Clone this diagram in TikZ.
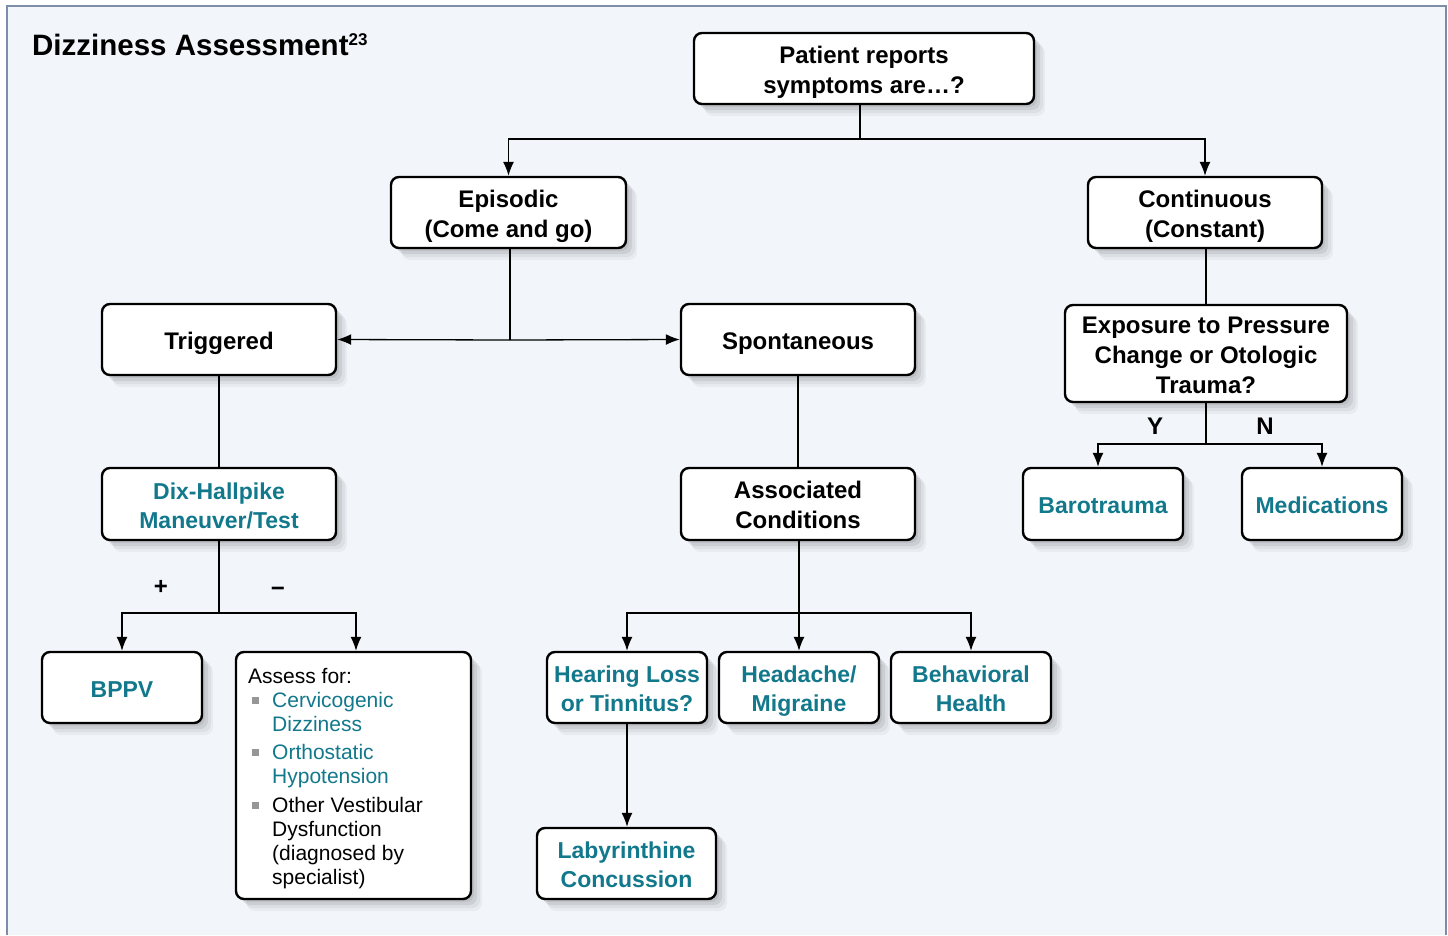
\documentclass[tikz,border=0pt]{standalone}
\usepackage{fontspec}
\setmainfont{Liberation Sans}
\usetikzlibrary{arrows.meta,shadows}
\definecolor{bgc}{RGB}{242,246,250}
\definecolor{framec}{RGB}{125,141,168}
\definecolor{tealc}{RGB}{18,120,140}
\definecolor{bulc}{RGB}{150,150,150}
\newcommand{\fl}{\rule{0pt}{25pt}}
\newcommand{\lastl}{\rule[-6pt]{0pt}{6pt}}
\tikzset{
  softshadow/.style={
    general shadow={fill=black, opacity=0.07, shadow xshift=3pt, shadow yshift=-3pt},
    general shadow={fill=black, opacity=0.07, shadow xshift=6pt, shadow yshift=-6pt},
    general shadow={fill=black, opacity=0.05, shadow xshift=9pt, shadow yshift=-9pt},
    general shadow={fill=black, opacity=0.04, shadow xshift=11pt, shadow yshift=-12pt}},
  box/.style={draw=black, line width=2.4pt, rounded corners=8pt, fill=white,
    align=center, inner sep=0pt, softshadow,
    font=\bfseries\fontsize{24}{30}\selectfont},
  tbox/.style={box, text=tealc, font=\bfseries\fontsize{23}{29}\selectfont},
  conn/.style={draw=black, line width=1.3pt},
  arr/.style={conn, -{Latex[length=14pt,width=11pt]}},
  lbl/.style={font=\bfseries\fontsize{24}{24}\selectfont, inner sep=0pt},
  ltxt/.style={anchor=base west, inner sep=0pt, font=\fontsize{21}{24}\selectfont},
  bul/.style={fill=bulc, minimum size=7pt, inner sep=0pt, draw=none},
}
\begin{document}
\begin{tikzpicture}[x=1pt,y=-1pt]
\useasboundingbox (0,0) rectangle (1448,935);
\fill[white] (0,0) rectangle (1448,935);
\fill[bgc] (7,6) rectangle (1446,935);
\draw[framec, line width=1.5pt] (7,935) -- (7,6) -- (1446,6) -- (1446,935);

\node[anchor=base west, inner sep=0pt, font=\bfseries\fontsize{29.5}{30}\selectfont] (title) at (32,55)
  {Dizziness Assessment\raisebox{10pt}{\fontsize{17}{17}\selectfont 23}};

\node[box, minimum width=340pt, minimum height=71pt] (pat) at (864,68.5) {\fl Patient reports\\symptoms are\ldots?\lastl};
\node[box, minimum width=235pt, minimum height=71pt] (epi) at (508.5,212.5) {\fl Episodic\\(Come and go)\lastl};
\node[box, minimum width=234pt, minimum height=71pt] (con) at (1205,212.5) {\fl Continuous\\(Constant)\lastl};
\node[box, minimum width=234pt, minimum height=71pt] (trig) at (219,339.5) {\fl Triggered\lastl};
\node[box, minimum width=234pt, minimum height=71pt] (spon) at (798,339.5) {\fl Spontaneous\lastl};
\node[box, minimum width=282pt, minimum height=97pt] (exp) at (1206,353.5) {\fl Exposure to Pressure\\Change or Otologic\\Trauma?\lastl};
\node[tbox, minimum width=234pt, minimum height=72pt] (dix) at (219,504) {\fl Dix-Hallpike\\Maneuver/Test\lastl};
\node[box, minimum width=234pt, minimum height=72pt] (assoc) at (798,504) {\fl Associated\\Conditions\lastl};
\node[tbox, minimum width=160pt, minimum height=72pt] (baro) at (1103,504) {\fl Barotrauma\lastl};
\node[tbox, minimum width=160pt, minimum height=72pt] (med) at (1322,504) {\fl Medications\lastl};
\node[tbox, minimum width=160pt, minimum height=71pt] (bppv) at (122,687.5) {\fl BPPV\lastl};
\node[box, minimum width=235pt, minimum height=247pt] (assess) at (353.5,775.5) {};
\node[tbox, minimum width=160pt, minimum height=71pt] (hear) at (627,687.5) {\fl Hearing Loss\\or Tinnitus?\lastl};
\node[tbox, minimum width=160pt, minimum height=71pt] (head) at (799,687.5) {\fl Headache/\\Migraine\lastl};
\node[tbox, minimum width=160pt, minimum height=71pt] (behav) at (971,687.5) {\fl Behavioral\\Health\lastl};
\node[tbox, minimum width=179pt, minimum height=71pt] (lab) at (626.5,863.5) {\fl Labyrinthine\\Concussion\lastl};

% Assess for contents
\node[ltxt] (a0) at (248,683) {Assess for:};
\node[bul] (b1) at (255,700) {};
\node[ltxt, text=tealc] (a1) at (272,707) {Cervicogenic};
\node[ltxt, text=tealc] (a2) at (272,731) {Dizziness};
\node[bul] (b2) at (255,752) {};
\node[ltxt, text=tealc] (a3) at (272,759) {Orthostatic};
\node[ltxt, text=tealc] (a4) at (272,783) {Hypotension};
\node[bul] (b3) at (255,805) {};
\node[ltxt] (a5) at (272,812) {Other Vestibular};
\node[ltxt] (a6) at (272,836) {Dysfunction};
\node[ltxt] (a7) at (272,860) {(diagnosed by};
\node[ltxt] (a8) at (272,884) {specialist)};

% connectors
\coordinate (j1) at (860,139);
\draw[conn] (j1 |- pat.south) -- (j1);
\draw[arr] (j1) -| (epi.north);
\draw[arr] (j1) -| (con.north);

\coordinate (j2) at (510,340);
\draw[conn] (j2 |- epi.south) -- (j2);
\draw[arr] (j2) -- (trig.east);
\draw[arr] (j2) -- (spon.west);

\draw[conn] (con.south -| exp.north) -- (exp.north);
\coordinate (j3) at (1206,444);
\coordinate (bx) at (1098,0);
\coordinate (mx) at (1322,0);
\draw[conn] (exp.south) -- (j3);
\draw[arr] (j3) -| (baro.north -| bx);
\draw[arr] (j3) -| (med.north -| mx);
\node[lbl] (ly) at (1155,426) {Y};
\node[lbl] (ln) at (1265,426) {N};

\draw[conn] (trig.south) -- (dix.north);
\draw[conn] (spon.south) -- (assoc.north);

\coordinate (j4) at (219,613);
\coordinate (ax) at (356,0);
\draw[conn] (dix.south) -- (j4);
\draw[arr] (j4) -| (bppv.north);
\draw[arr] (j4) -| (assess.north -| ax);
\node[lbl, anchor=base] (lp) at (161,594.5) {+};
\node[lbl, anchor=base] (lm) at (278,596) {−};

\coordinate (j5) at (799,613);
\draw[conn] (j5 |- assoc.south) -- (j5);
\draw[arr] (j5) -- (head.north);
\draw[arr] (j5) -| (hear.north);
\draw[arr] (j5) -| (behav.north);

\draw[arr] (hear.south) -- (hear.south |- lab.north);
\end{tikzpicture}
\end{document}
